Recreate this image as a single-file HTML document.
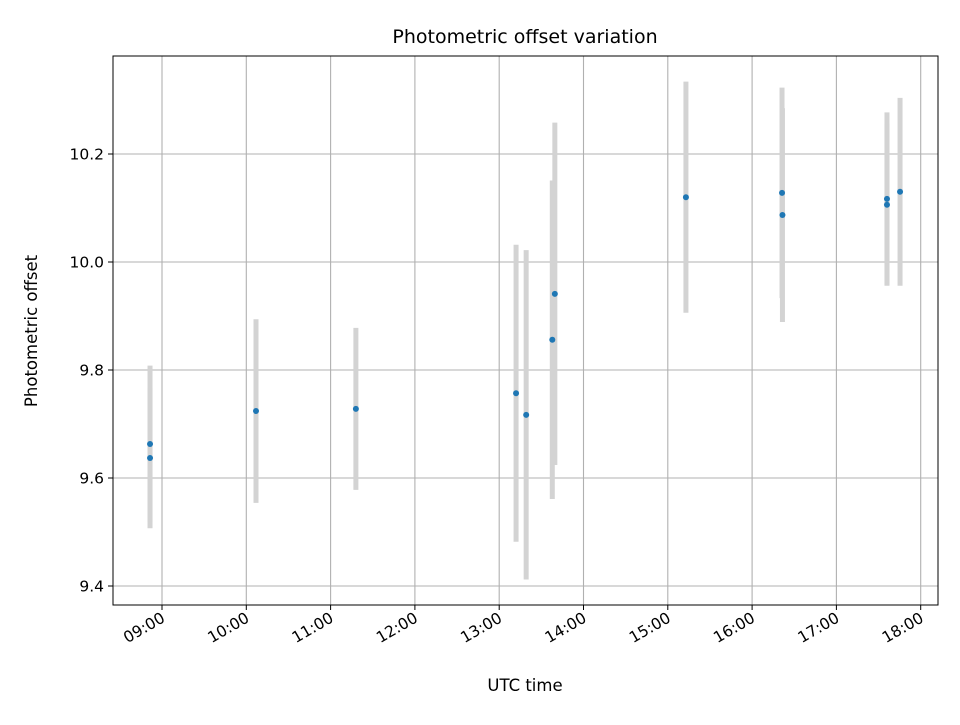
<!DOCTYPE html>
<html><head><meta charset="utf-8"><style>
body{margin:0;background:#fff}
svg text{font-family:"DejaVu Sans","Liberation Sans",sans-serif;fill:#000}
</style></head><body>
<svg id="chart" width="960" height="720" viewBox="0 0 960 720" xmlns="http://www.w3.org/2000/svg">
<rect width="960" height="720" fill="#fff"/>
<text x="525" y="43" font-size="19" text-anchor="middle">Photometric offset variation</text>
<g id="grid"></g>
<g id="bars"></g>
<g id="pts"></g>
<rect x="113" y="56" width="825" height="549" fill="none" stroke="#000" stroke-width="1"/>
<g id="ticks"></g>
<text x="525" y="691" font-size="16.5" text-anchor="middle">UTC time</text>
<text transform="translate(37,331) rotate(-90)" font-size="16.5" text-anchor="middle">Photometric offset</text>
</svg>
<script>
const times = [8.858, 8.858, 10.115, 11.30, 13.20, 13.32, 13.63, 13.66, 15.215, 16.355, 16.36, 17.60, 17.60, 17.755];
const values = [9.663, 9.637, 9.724, 9.728, 9.757, 9.717, 9.856, 9.941, 10.120, 10.128, 10.087, 10.117, 10.106, 10.130];
const errors = [0.145, 0.13, 0.17, 0.15, 0.275, 0.305, 0.295, 0.317, 0.214, 0.195, 0.198, 0.16, 0.15, 0.174];
const xTicks = [9, 10, 11, 12, 13, 14, 15, 16, 17, 18];
const xTickLabels = ["09:00","10:00","11:00","12:00","13:00","14:00","15:00","16:00","17:00","18:00"];
const yTicks = [9.4, 9.6, 9.8, 10.0, 10.2];
const yTickLabels = ["9.4","9.6","9.8","10.0","10.2"];
const X = h => 162 + (h - 9) * 84.3;
const Y = v => 586 - (v - 9.4) * 540;
const NS = "http://www.w3.org/2000/svg";
function mk(tag, attrs, parent){const e=document.createElementNS(NS,tag);for(const k in attrs)e.setAttribute(k,attrs[k]);document.getElementById(parent).appendChild(e);return e;}
xTicks.forEach((t,i)=>{
  const x=X(t);
  const g=mk('line',{x1:x,x2:x,y1:56,y2:605,stroke:'#b0b0b0','stroke-width':1.1},'grid');
  
  
  const tk=mk('line',{x1:x,x2:x,y1:605,y2:610,stroke:'#000'},'ticks');
  
  
  const tx=mk('text',{x:x+4,y:621,'font-size':15.5,'text-anchor':'end',transform:`rotate(-30 ${x+4} 621)`},'ticks');
  tx.textContent=xTickLabels[i];
  
  
});
yTicks.forEach((t,i)=>{
  const y=Y(t);
  const g=mk('line',{x1:113,x2:938,y1:y,y2:y,stroke:'#b0b0b0','stroke-width':1.1},'grid');
  
  
  const tk=mk('line',{x1:108,x2:113,y1:y,y2:y,stroke:'#000'},'ticks');
  
  
  const tx=mk('text',{x:104,y:y+5.5,'font-size':15.5,'text-anchor':'end'},'ticks');
  tx.textContent=yTickLabels[i];
  
  
});
times.forEach((t,i)=>{
  const x=X(t);
  const b=mk('line',{x1:x,x2:x,y1:Y(values[i]+errors[i]),y2:Y(values[i]-errors[i]),stroke:'#d3d3d3','stroke-width':5},'bars');
  
  
});
times.forEach((t,i)=>{
  const c=mk('circle',{cx:X(t),cy:Y(values[i]),r:3,fill:'#1f77b4'},'pts');
  
  
});
</script>
</body></html>
